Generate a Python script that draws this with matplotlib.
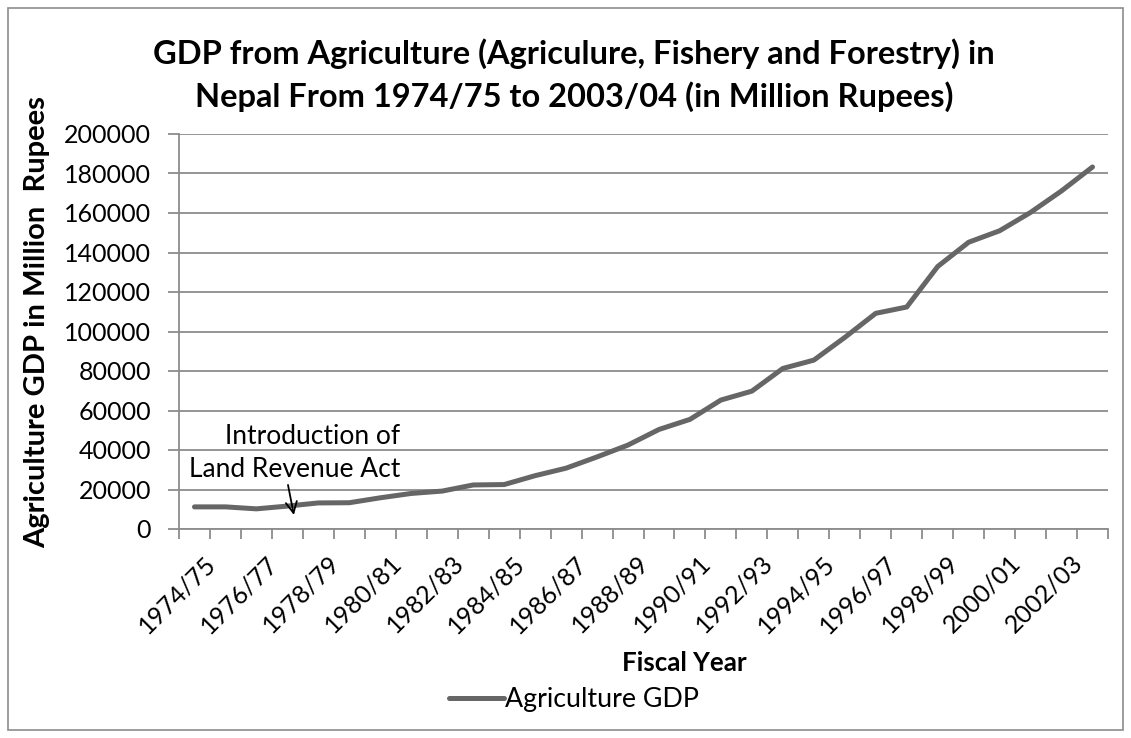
import numpy as np
import matplotlib
matplotlib.use('Agg')
import matplotlib.pyplot as plt
from matplotlib.patches import Rectangle
from matplotlib.transforms import ScaledTranslation

# fiscal years and agriculture GDP (million rupees)
years = ['1974/75', '1975/76', '1976/77', '1977/78', '1978/79', '1979/80',
         '1980/81', '1981/82', '1982/83', '1983/84', '1984/85', '1985/86',
         '1986/87', '1987/88', '1988/89', '1989/90', '1990/91', '1991/92',
         '1992/93', '1993/94', '1994/95', '1995/96', '1996/97', '1997/98',
         '1998/99', '1999/00', '2000/01', '2001/02', '2002/03', '2003/04']
gdp = [11200, 11200, 10200, 11600, 13200, 13300, 15800, 18000, 19200, 22300,
       22500, 27000, 30800, 36500, 42500, 50400, 55500, 65300, 69800, 81300,
       85500, 97000, 109200, 112400, 132900, 145200, 151000, 160300, 171200, 183300]
y_ticks = [0, 20000, 40000, 60000, 80000, 100000, 120000, 140000, 160000, 180000, 200000]

plt.rcParams['font.family'] = ['Lato', 'DejaVu Sans']
W, H = 1131, 738

fig = plt.figure(figsize=(W / 100, H / 100), dpi=100)
# light outer frame round the chart area
fig.patches.append(Rectangle((8 / W, 8 / H), 1 - 16 / W, 1 - 16 / H,
                             transform=fig.transFigure, fill=False,
                             edgecolor='#8c8c8c', linewidth=1.2))
ax = fig.add_axes([179 / W, 1 - 529 / H, (1108 - 179) / W, (529 - 134) / H])

x = np.arange(len(years))
ax.plot(x, gdp, color='#666666', linewidth=3.6, solid_capstyle='round',
        solid_joinstyle='round', label='Agriculture GDP', zorder=3)

ax.set_xlim(-0.5, len(years) - 0.5)
ax.set_ylim(0, 200000)
ax.set_yticks(y_ticks)
ax.set_yticklabels([str(v) for v in y_ticks], fontsize=18)
ax.yaxis.grid(True, color='#8c8c8c', linewidth=1.3)
ax.set_axisbelow(True)

ax.set_xticks(x[::2])
ax.set_xticklabels(years[::2], rotation=45, ha='right', rotation_mode='anchor',
                   fontsize=18)
ax.set_xticks(np.arange(-0.5, len(years)), minor=True)
ax.tick_params(axis='x', which='major', length=0, pad=16)
ax.tick_params(axis='x', which='minor', length=7, color='#8c8c8c', width=1.3)
ax.tick_params(axis='y', length=8, color='#8c8c8c', width=1.3, pad=12)
# nudge the slanted labels a little to the right, as in the original
shift = ScaledTranslation(9 / 100, 0, fig.dpi_scale_trans)
for lab in ax.get_xticklabels():
    lab.set_transform(lab.get_transform() + shift)

for s in ['top', 'right']:
    ax.spines[s].set_visible(False)
for s in ['left', 'bottom']:
    ax.spines[s].set_color('#8c8c8c')
    ax.spines[s].set_linewidth(1.3)

fig.text(574 / W, 1 - 38 / H,
         'GDP from Agriculture (Agriculure, Fishery and Forestry) in\n'
         'Nepal From 1974/75 to 2003/04 (in Million Rupees)',
         ha='center', va='top', fontsize=23.5, fontweight='bold', linespacing=1.5)
fig.text(37 / W, 1 - 322 / H, 'Agriculture GDP in Million  Rupees', rotation=90,
         ha='center', va='center', fontsize=21, fontweight='bold')
fig.text(684 / W, 1 - 663 / H, 'Fiscal Year', ha='center', va='center',
         fontsize=18.6, fontweight='bold')

ax.text(6.64, 23800, 'Introduction of\nLand Revenue Act', ha='right', va='bottom',
        fontsize=19, linespacing=1.38)
ax.annotate('', xy=(3.21, 7100), xytext=(3.02, 22300),
            arrowprops=dict(arrowstyle='->', color='black', lw=1.3,
                            mutation_scale=20, shrinkA=0, shrinkB=0))

fig.legend(loc='center', bbox_to_anchor=(574 / W, 1 - 700 / H), frameon=False,
           fontsize=19.3, handlelength=2.05, handletextpad=0.05)

fig.savefig('out.png', dpi=100)
